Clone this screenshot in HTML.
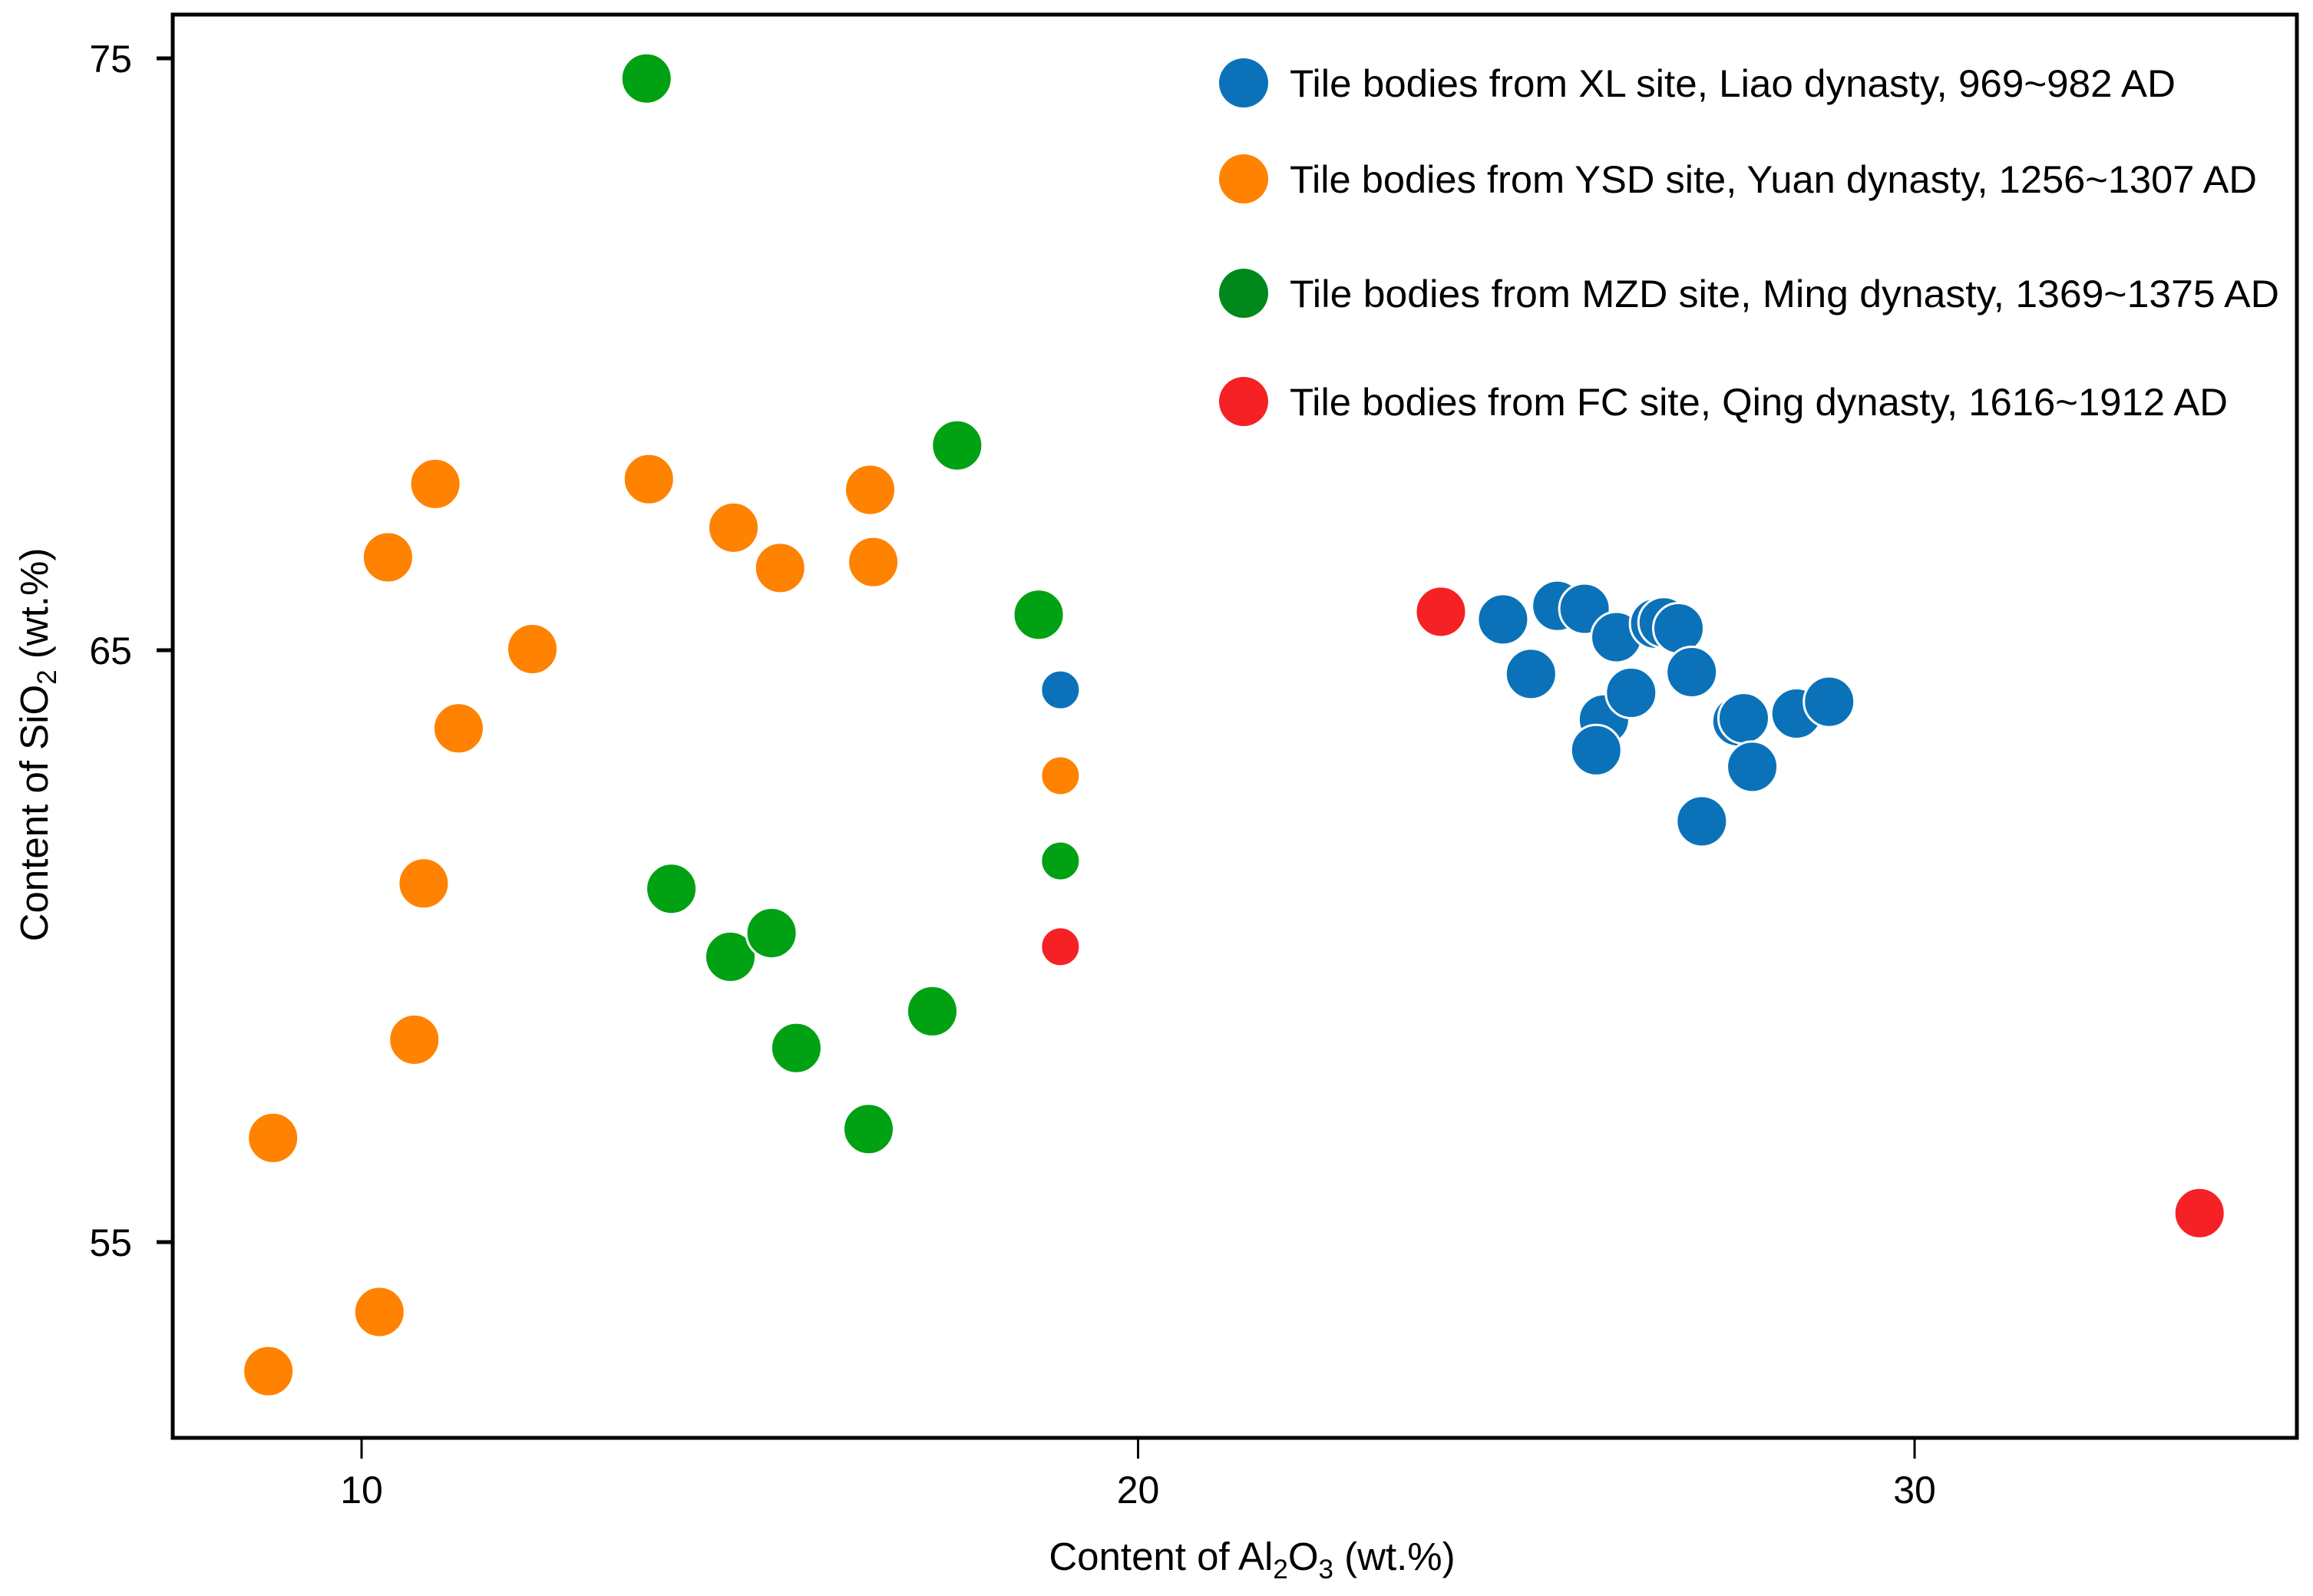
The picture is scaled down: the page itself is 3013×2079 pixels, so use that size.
<!DOCTYPE html>
<html><head><meta charset="utf-8"><style>
html,body{margin:0;padding:0;background:#fff;}
svg{display:block;font-family:"Liberation Sans",sans-serif;}
</style></head><body>
<svg id="chart" width="3013" height="2079" viewBox="0 0 3013 2079" xmlns="http://www.w3.org/2000/svg">
<rect x="0" y="0" width="3013" height="2079" fill="#fff"/>
<g id="marks"></g>
<rect x="225" y="19" width="2767" height="1854" fill="none" stroke="#000" stroke-width="5"/>
<g id="axes"></g>
<text x="1631" y="2045" font-size="51" text-anchor="middle">Content of Al<tspan font-size="35" dy="11">2</tspan><tspan dy="-11">O</tspan><tspan font-size="35" dy="11">3</tspan><tspan dy="-11"> (wt.%)</tspan></text>
<text transform="translate(62,970) rotate(-90)" font-size="51" text-anchor="middle">Content of SiO<tspan font-size="35" dy="11">2</tspan><tspan dy="-11"> (wt.%)</tspan></text>
<g id="legend"></g>
</svg>
<script>
const xTicks = [10, 20, 30];
const yTicks = [55, 65, 75];
const seriesNames = ["Tile bodies from XL site, Liao dynasty, 969~982 AD","Tile bodies from YSD site, Yuan dynasty, 1256~1307 AD","Tile bodies from MZD site, Ming dynasty, 1369~1375 AD","Tile bodies from FC site, Qing dynasty, 1616~1912 AD"];
const xlX = [24.70,25.06,25.40,25.75,26.16,26.0,25.90,26.35,26.66,26.77,26.96,27.13,27.26,27.72,27.80,27.91,28.48,28.90];
const xlY = [65.52,64.60,65.75,65.70,65.22,63.83,63.31,64.28,65.45,65.47,65.37,64.63,62.11,63.80,63.85,63.03,63.93,64.13];
const ysdX = [8.86,8.80,10.23,10.68,10.80,10.34,10.95,11.25,12.20,13.70,14.79,15.39,16.55,16.59];
const ysdY = [56.76,52.82,53.82,58.42,61.06,66.57,67.81,63.68,65.02,67.89,67.07,66.39,67.71,66.49];
const mzdX = [13.67,17.67,18.72,13.99,14.75,15.28,15.60,17.35,16.53];
const mzdY = [74.66,68.46,65.60,60.97,59.82,60.22,58.28,58.90,56.91];
const fcX = [23.90,33.67];
const fcY = [65.65,55.49];
const smallX = [19.0,19.0,19.0,19.0];
const smallY = [64.33,62.88,61.44,59.99];
const colors = ["#0b72b9","#ff8200","#00a113","#f52125"];
const legendColors = ["#0b72b9","#ff8200","#00891a","#f52125"];

const NS="http://www.w3.org/2000/svg";
function sx(v){return 471+(v-10)*101.15;}
function sy(v){return 847-(v-65)*77.1;}
function mk(tag,attrs,parent){const e=document.createElementNS(NS,tag);for(const k in attrs)e.setAttribute(k,attrs[k]);parent.appendChild(e);return e;}

const marks=document.getElementById('marks');
const groups=[[xlX,xlY,0,'xl'],[ysdX,ysdY,1,'ysd'],[mzdX,mzdY,2,'mzd'],[fcX,fcY,3,'fc']];
groups.forEach(g=>{
  g[0].forEach((x,i)=>{
    const c=mk('circle',{cx:sx(x),cy:sy(g[1][i]),r:33,fill:colors[g[2]],stroke:'#fff','stroke-width':3},marks);
    
    
  });
});
smallX.forEach((x,i)=>{
  const c=mk('circle',{cx:sx(x),cy:sy(smallY[i]),r:25,fill:colors[i],stroke:'#fff','stroke-width':2},marks);
  
  
});

const axes=document.getElementById('axes');
xTicks.forEach(t=>{
  const l=mk('line',{x1:sx(t),x2:sx(t),y1:1873,y2:1900,stroke:'#000','stroke-width':3},axes);
  
  
  const tx=mk('text',{x:sx(t),y:1958,'font-size':50,'text-anchor':'middle'},axes);
  tx.textContent=t;
  
  
});
yTicks.forEach(t=>{
  const l=mk('line',{x1:204,x2:225,y1:sy(t),y2:sy(t),stroke:'#000','stroke-width':5},axes);
  
  
  const tx=mk('text',{x:172,y:sy(t)+18,'font-size':50,'text-anchor':'end'},axes);
  tx.textContent=t;
  
  
});

const legend=document.getElementById('legend');
const legY=[108,233,382,523];
const legEnd=[2834,2940,2969,2902];
seriesNames.forEach((n,i)=>{
  const c=mk('circle',{cx:1620,cy:legY[i],r:32,fill:legendColors[i]},legend);
  
  
  const t=mk('text',{x:1680,y:legY[i]+18,'font-size':50,textLength:legEnd[i]-1680,lengthAdjust:'spacingAndGlyphs'},legend);
  t.textContent=n;
  
  
});
</script>
</body></html>
